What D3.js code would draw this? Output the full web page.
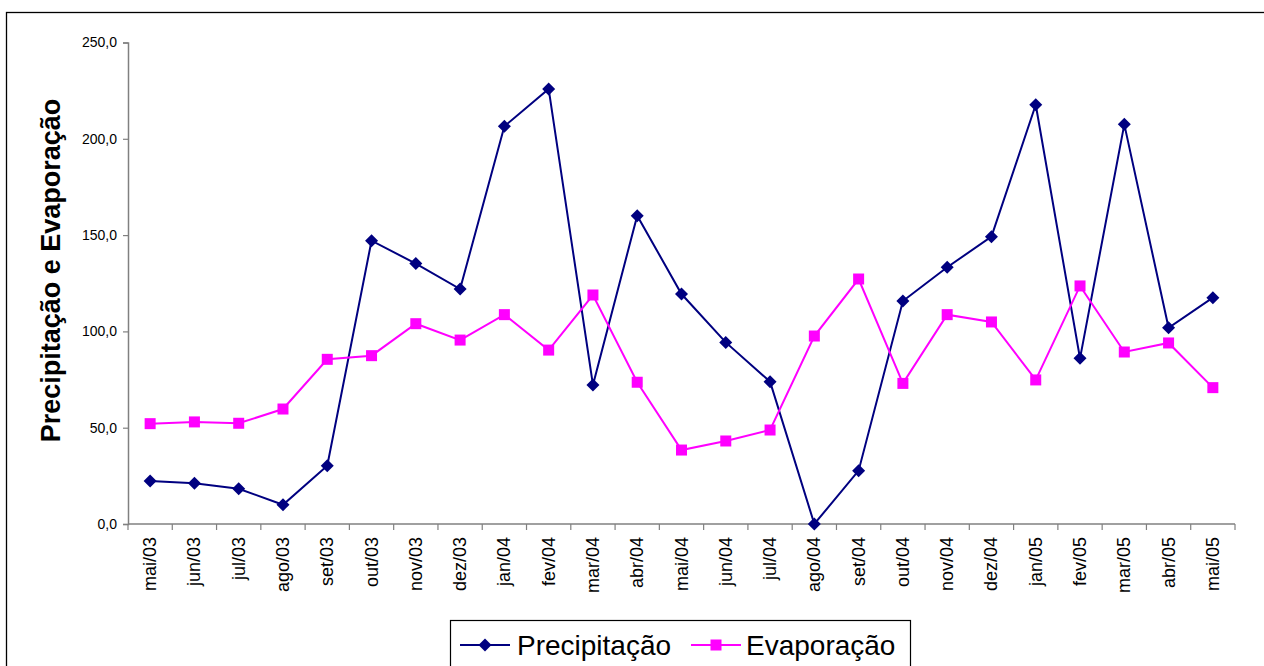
<!DOCTYPE html>
<html>
<head>
<meta charset="utf-8">
<script src="https://cdn.jsdelivr.net/npm/d3@7/dist/d3.min.js"></script>
<style>
  html, body { margin: 0; padding: 0; background: #fff; }
  svg { display: block; font-family: "Liberation Sans", Arial, sans-serif; }
</style>
</head>
<body>
<svg id="chart" width="1264" height="666"></svg>
<script>
// Monthly precipitation and evaporation, May 2003 - May 2005
const months = ["mai/03","jun/03","jul/03","ago/03","set/03","out/03","nov/03","dez/03",
  "jan/04","fev/04","mar/04","abr/04","mai/04","jun/04","jul/04","ago/04","set/04",
  "out/04","nov/04","dez/04","jan/05","fev/05","mar/05","abr/05","mai/05"];
const precipitacao = [22.3, 21.1, 18.3, 10.0, 30.3, 147.1, 135.2, 122.0, 206.5, 225.9,
  72.2, 160.1, 119.4, 94.3, 73.9, 0.0, 27.7, 115.8, 133.3, 149.2, 217.7, 86.0, 207.5,
  101.9, 117.5];
const evaporacao = [52.1, 53.0, 52.3, 59.7, 85.5, 87.4, 104.0, 95.5, 108.7, 90.3, 118.9,
  73.6, 38.4, 43.1, 48.8, 97.6, 127.2, 73.0, 108.7, 104.9, 74.8, 123.6, 89.3, 94.0, 70.8];
const yTicks = [0, 50, 100, 150, 200, 250];
const seriesNames = ["Precipitação", "Evaporação"];
const yTitle = "Precipitação e Evaporação";

const svg = d3.select("#chart");
const plot = { left: 128, right: 1235, top: 42.5, bottom: 524 };

// outer chart frame (continues past the visible area)
svg.append("rect")
  .attr("x", 6.5).attr("y", 12.5)
  .attr("width", 1300).attr("height", 700)
  .attr("fill", "none").attr("stroke", "#000").attr("stroke-width", 1.3);

const x = d3.scaleBand().domain(months).range([plot.left, plot.right]).padding(0);
const y = d3.scaleLinear().domain([0, 250]).range([plot.bottom, plot.top]);
const fmt = v => d3.format(".1f")(v).replace(".", ",");

// y axis
const yAxis = svg.append("g")
  .attr("transform", `translate(${plot.left},0)`)
  .call(d3.axisLeft(y).tickValues(yTicks).tickFormat(fmt).tickSizeOuter(0).tickSize(5));
yAxis.select(".domain").attr("stroke", "#808080").attr("stroke-width", 1.5);
yAxis.selectAll(".tick line").attr("stroke", "#808080").attr("stroke-width", 1.2);
yAxis.selectAll(".tick text")
  .attr("font-size", 14).attr("fill", "#000").attr("x", -11)
  .attr("font-family", "'Liberation Sans', Arial, sans-serif");

// x axis: ticks sit at category boundaries
const xAxisG = svg.append("g").attr("transform", `translate(0,${plot.bottom})`);
xAxisG.append("line")
  .attr("x1", plot.left).attr("x2", plot.right)
  .attr("stroke", "#808080").attr("stroke-width", 1.5);
const bounds = months.map(m => x(m)).concat([plot.right]);
xAxisG.selectAll("line.tk").data(bounds).join("line")
  .attr("class", "tk")
  .attr("x1", d => d).attr("x2", d => d)
  .attr("y1", 0).attr("y2", 6)
  .attr("stroke", "#808080").attr("stroke-width", 1.2);
xAxisG.selectAll("text").data(months).join("text")
  .attr("transform", d => `translate(${x(d) + x.bandwidth() / 2 + 6},13) rotate(-90)`)
  .attr("text-anchor", "end")
  .attr("font-size", 18)
  .attr("fill", "#000")
  .text(d => d);

// y axis title
svg.append("text")
  .attr("transform", `translate(60,${270.5}) rotate(-90)`)
  .attr("text-anchor", "middle")
  .attr("font-size", 27)
  .attr("font-weight", "bold")
  .attr("fill", "#000")
  .text(yTitle);

const cx = (d, i) => x(months[i]) + x.bandwidth() / 2;
const line = d3.line().x((d, i) => cx(d, i)).y(d => y(d));

const colors = ["#000080", "#FF00FF"];
const diamond = s => `M0,${-s} L${s},0 L0,${s} L${-s},0 Z`;

// precipitation series
svg.append("path").datum(precipitacao)
  .attr("d", line).attr("fill", "none")
  .attr("stroke", colors[0]).attr("stroke-width", 2);
svg.selectAll("path.pm").data(precipitacao).join("path")
  .attr("class", "pm")
  .attr("transform", (d, i) => `translate(${cx(d, i)},${y(d)})`)
  .attr("d", diamond(6.5))
  .attr("fill", colors[0]);

// evaporation series
svg.append("path").datum(evaporacao)
  .attr("d", line).attr("fill", "none")
  .attr("stroke", colors[1]).attr("stroke-width", 2);
svg.selectAll("rect.em").data(evaporacao).join("rect")
  .attr("class", "em")
  .attr("x", (d, i) => cx(d, i) - 5.5)
  .attr("y", d => y(d) - 5.5)
  .attr("width", 11).attr("height", 11)
  .attr("fill", colors[1]);

// legend
const leg = svg.append("g");
leg.append("rect")
  .attr("x", 450.5).attr("y", 620.5).attr("width", 460).attr("height", 80)
  .attr("fill", "#fff").attr("stroke", "#000").attr("stroke-width", 1.2);
const legItems = [
  { name: seriesNames[0], x0: 460, color: colors[0], shape: "diamond", tx: 517 },
  { name: seriesNames[1], x0: 691, color: colors[1], shape: "square", tx: 746 }
];
const ly = 645;
legItems.forEach(it => {
  leg.append("line")
    .attr("x1", it.x0).attr("x2", it.x0 + 50)
    .attr("y1", ly).attr("y2", ly)
    .attr("stroke", it.color).attr("stroke-width", 2);
  if (it.shape === "diamond") {
    leg.append("path")
      .attr("transform", `translate(${it.x0 + 25},${ly})`)
      .attr("d", diamond(6.5)).attr("fill", it.color);
  } else {
    leg.append("rect")
      .attr("x", it.x0 + 25 - 5.5).attr("y", ly - 5.5)
      .attr("width", 11).attr("height", 11).attr("fill", it.color);
  }
  leg.append("text")
    .attr("x", it.tx).attr("y", ly + 10)
    .attr("font-size", 28).attr("fill", "#000")
    .text(it.name);
});
</script>
</body>
</html>
